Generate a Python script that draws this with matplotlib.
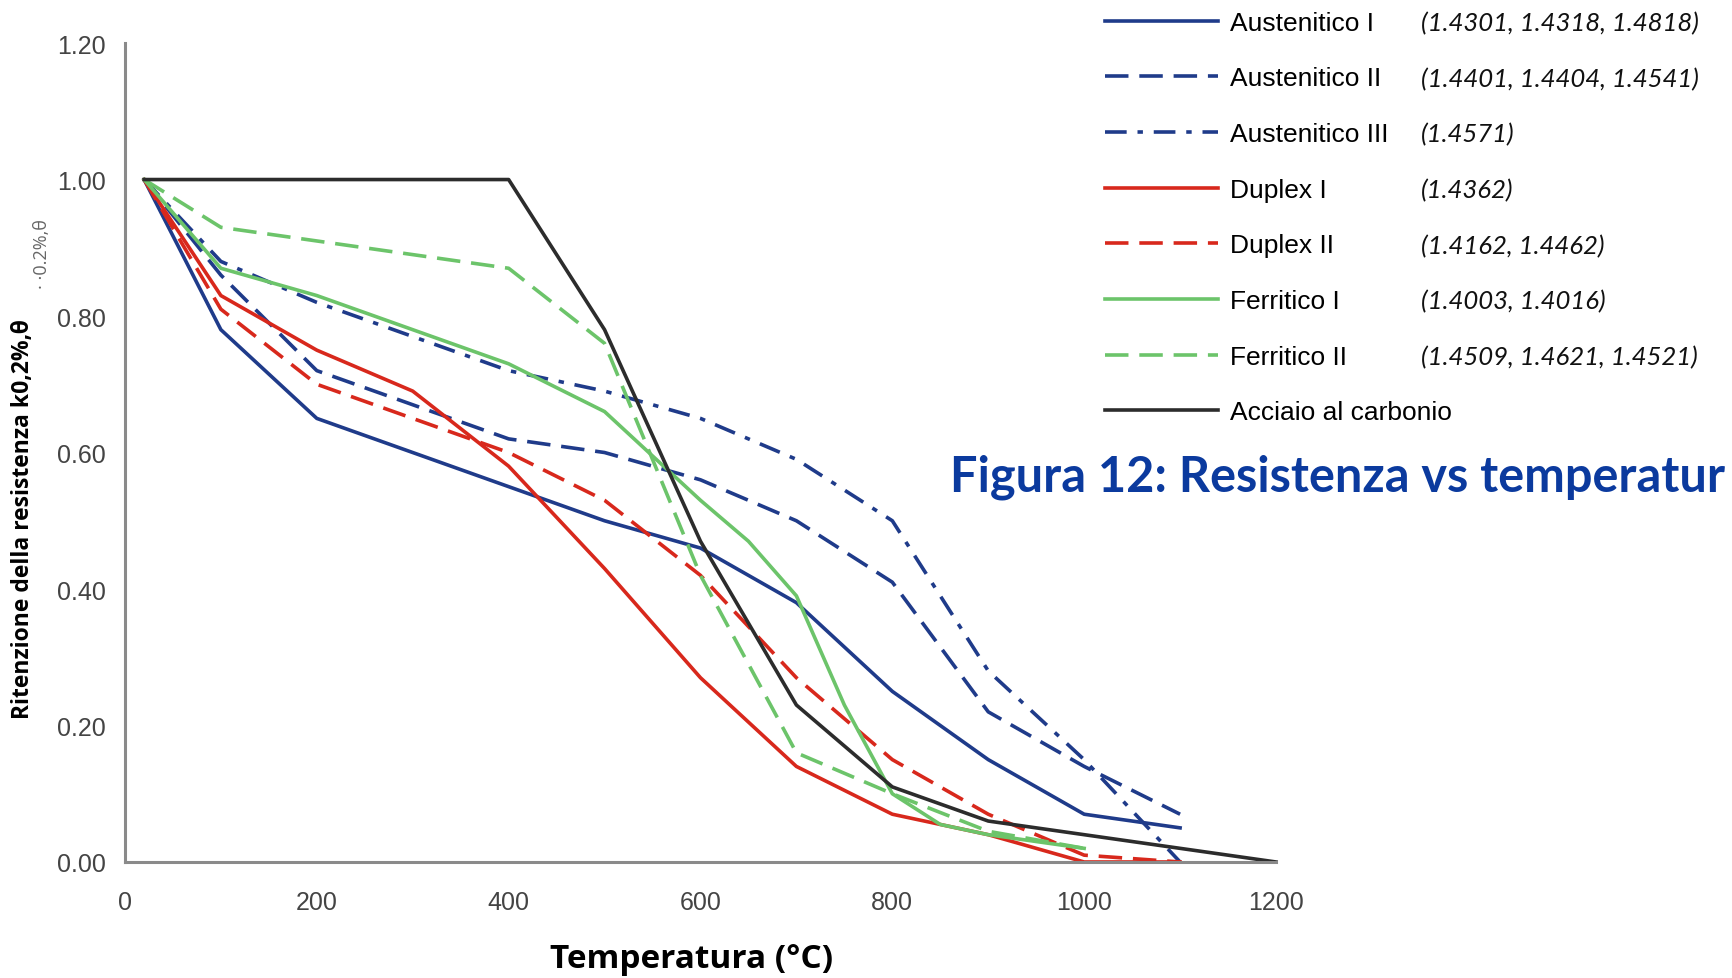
import matplotlib
matplotlib.use('Agg')
import matplotlib.pyplot as plt

# values
temp = [20, 100, 200, 300, 400, 500, 600, 700, 800, 900, 1000, 1100]
aust1 = [1.00, 0.78, 0.65, 0.60, 0.55, 0.50, 0.46, 0.38, 0.25, 0.15, 0.07, 0.05]
aust2 = [1.00, 0.86, 0.72, 0.67, 0.62, 0.60, 0.56, 0.50, 0.41, 0.22, 0.14, 0.07]
aust3 = [1.00, 0.88, 0.82, 0.77, 0.72, 0.69, 0.65, 0.59, 0.50, 0.28, 0.15, 0.00]
duplex1 = [1.00, 0.83, 0.75, 0.69, 0.58, 0.43, 0.27, 0.14, 0.07, 0.04, 0.00, 0.00]
duplex2 = [1.00, 0.81, 0.70, 0.65, 0.60, 0.53, 0.42, 0.27, 0.15, 0.07, 0.01, 0.00]

ferr1_temp = [20, 100, 200, 300, 400, 500, 600, 650, 700, 750, 800, 850, 900, 1000]
ferr1 = [1.00, 0.87, 0.83, 0.78, 0.73, 0.66, 0.53, 0.47, 0.39, 0.23, 0.10, 0.055, 0.04, 0.02]

ferr2_temp = [20, 100, 200, 300, 400, 500, 600, 700, 800, 900, 1000]
ferr2 = [1.00, 0.93, 0.91, 0.89, 0.87, 0.76, 0.42, 0.16, 0.10, 0.045, 0.02]

carbon_temp = [20, 400, 500, 600, 700, 800, 900, 1000, 1100, 1200]
carbon = [1.00, 1.00, 0.78, 0.47, 0.23, 0.11, 0.06, 0.04, 0.02, 0.00]

names = ['Austenitico I', 'Austenitico II', 'Austenitico III', 'Duplex I',
         'Duplex II', 'Ferritico I', 'Ferritico II', 'Acciaio al carbonio']
codes = ['(1.4301, 1.4318, 1.4818)', '(1.4401, 1.4404, 1.4541)', '(1.4571)',
         '(1.4362)', '(1.4162, 1.4462)', '(1.4003, 1.4016)',
         '(1.4509, 1.4621, 1.4521)', '']

blue = '#1f3b8a'
red = '#d8281c'
green = '#6cc46a'
black = '#2c2c2c'
sans = ['Liberation Sans', 'DejaVu Sans']

fig = plt.figure(figsize=(17.33, 9.79), dpi=100)
ax = fig.add_axes([0.0721, 0.1185, 0.6642, 0.8365])

lw = 2.6
dash = (0, (6.5, 3))
dashdot = (0, (6, 3, 1.5, 3))

series = [
    (temp, aust1, blue, '-'),
    (temp, aust2, blue, dash),
    (temp, aust3, blue, dashdot),
    (temp, duplex1, red, '-'),
    (temp, duplex2, red, dash),
    (ferr1_temp, ferr1, green, '-'),
    (ferr2_temp, ferr2, green, dash),
    (carbon_temp, carbon, black, '-'),
]
handles = []
for (x, y, c, ls), name in zip(series, names):
    h, = ax.plot(x, y, color=c, linestyle=ls, lw=lw, label=name, clip_on=False)
    handles.append(h)

ax.set_xlim(0, 1200)
ax.set_ylim(0, 1.2)
ax.set_xticks(range(0, 1201, 200))
ax.set_yticks([0, 0.2, 0.4, 0.6, 0.8, 1.0, 1.2])
ax.set_yticklabels(['%.2f' % v for v in ax.get_yticks()])
for s in ['top', 'right']:
    ax.spines[s].set_visible(False)
for s in ['left', 'bottom']:
    ax.spines[s].set_color('#8a8a8a')
    ax.spines[s].set_linewidth(2.2)
ax.tick_params(length=0, labelsize=18, labelcolor='#444444')
ax.tick_params(axis='y', pad=14)
ax.tick_params(axis='x', pad=20)
for lab in ax.get_xticklabels() + ax.get_yticklabels():
    lab.set_family(sans)

fig.text(0.399, 0.02, 'Temperatura (°C)', ha='center', va='center',
         fontsize=24, fontweight='bold', family=['Open Sans', 'DejaVu Sans'])
fig.text(0.013, 0.47, 'Ritenzione della resistenza k0,2%,θ', rotation=90,
         ha='center', va='center', fontsize=16.5, fontweight='bold',
         family=['Open Sans', 'DejaVu Sans'])
fig.text(0.024, 0.74, '· ·0.2%,θ', rotation=90, ha='center', va='center',
         fontsize=13, color='#666666', family=['Open Sans', 'DejaVu Sans'])

leg = ax.legend(handles, names, loc='upper left',
                bbox_to_anchor=(1105 / 1733, 0.988), bbox_transform=fig.transFigure,
                frameon=False, handlelength=4.3, handletextpad=0.45,
                labelspacing=1.2, borderpad=0, borderaxespad=0,
                prop={'family': sans, 'size': 19})

fig.canvas.draw()
inv = fig.transFigure.inverted()
for t, code in zip(leg.get_texts(), codes):
    if not code:
        continue
    bb = t.get_window_extent()
    yc = inv.transform((0, (bb.y0 + bb.y1) / 2))[1]
    fig.text(1421 / 1733, yc, code, ha='left', va='center', fontsize=18.5,
             style='italic', family=['Lato', 'DejaVu Sans'], color='#111111')

# the reference crops the caption at the right edge after "temperatur"
fig.text(950 / 1733, 0.513, 'Figura 12: Resistenza vs temperatur', ha='left',
         va='center', fontsize=35, fontweight='bold', color='#0b3a9e',
         family=['Lato', 'DejaVu Sans'])

fig.savefig('out.png', dpi=100)
